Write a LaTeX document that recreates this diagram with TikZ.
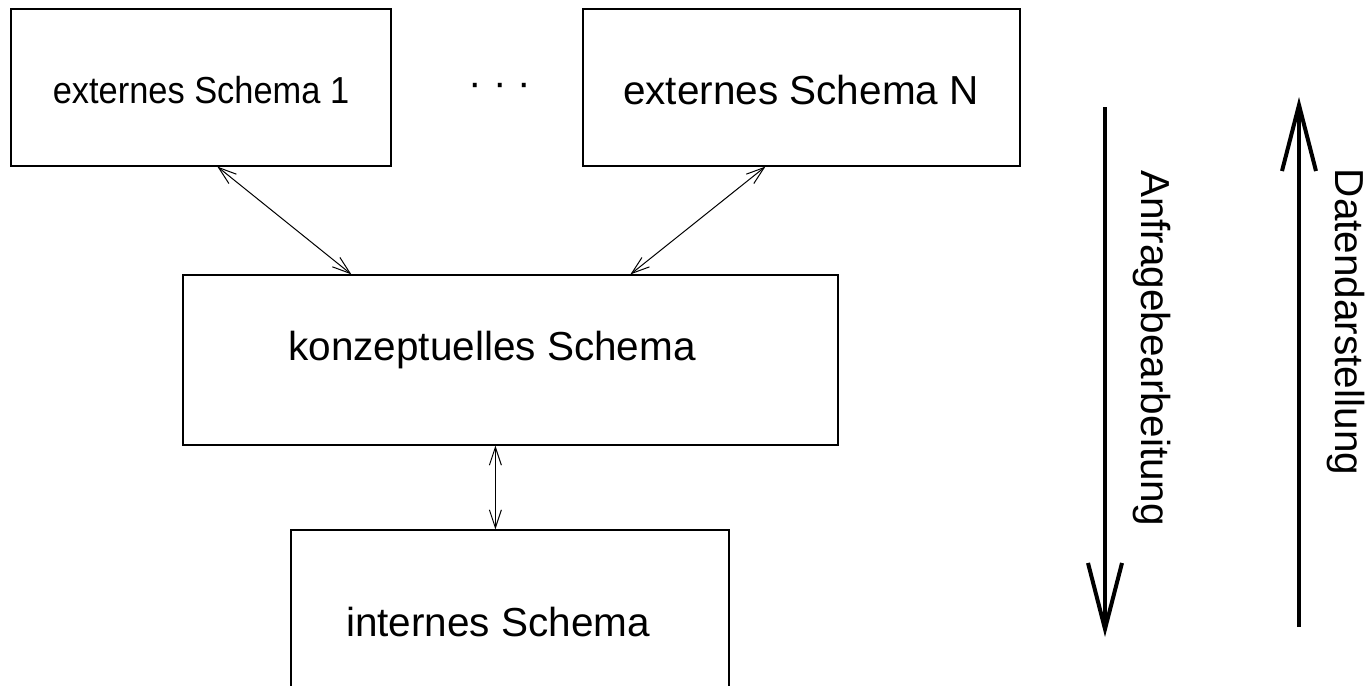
\documentclass[tikz,border=0pt]{standalone}
\usepackage{fontspec}
\setmainfont{Liberation Sans}
\usetikzlibrary{arrows.meta}
\begin{document}
\begin{tikzpicture}[x=0.5pt,y=-0.5pt,
 box/.style={draw, line width=0.6pt, inner sep=0pt},
 lbl/.style={font=\fontsize{20.25}{24}\selectfont, inner sep=0pt},
 narrowlbl/.style={font=\fontsize{18.8}{22}\selectfont, inner sep=0pt, xscale=0.915},
 thinarrow/.style={line width=0.5pt, {Straight Barb[length=9pt,width=6pt]}-{Straight Barb[length=9pt,width=6pt]}},
 bigarrow/.style={line width=2pt, -{Straight Barb[length=33pt,width=17pt]}}
]
\useasboundingbox (0,0) rectangle (1372,686);
\clip (0,0) rectangle (1372,686);
\node[box, minimum width=190pt, minimum height=78.5pt] (e1) at (201,87.5) {};
\node[box, minimum width=218.5pt, minimum height=78.5pt] (eN) at (801.5,87.5) {};
\node[box, minimum width=327.5pt, minimum height=85pt] (k) at (510.5,360) {};
\node[box, minimum width=219pt, minimum height=85pt] (i) at (510,615) {};
\node[narrowlbl] (t1) at (201,90) {externes Schema 1};
\node[lbl] (dots) at (500,90) {· · ·};
\node[lbl] (tN) at (801,90) {externes Schema N};
\node[lbl] (tk) at (492,350) {konzeptuelles Schema};
\node[lbl] (ti) at (498,622) {internes Schema};
\draw[thinarrow] ([xshift=103.5pt]e1.south west) -- ([xshift=84.5pt]k.north west);
\draw[thinarrow] ([xshift=91.5pt]eN.south west) -- ([xshift=224pt]k.north west);
\draw[thinarrow] ([xshift=156.5pt]k.south west) -- ([xshift=102.5pt]i.north west);
\coordinate (q1) at (1105,107);
\coordinate (q2) at (1105,637);
\coordinate (d1) at (1299,627);
\coordinate (d2) at (1299,97);
\draw[bigarrow] (q1) -- (q2);
\draw[bigarrow] (d1) -- (d2);
\node[lbl, rotate=-90] (la) at (1152,348) {Anfragebearbeitung};
\node[lbl, rotate=-90] (ld) at (1346,322) {Datendarstellung};
\end{tikzpicture}
\end{document}
